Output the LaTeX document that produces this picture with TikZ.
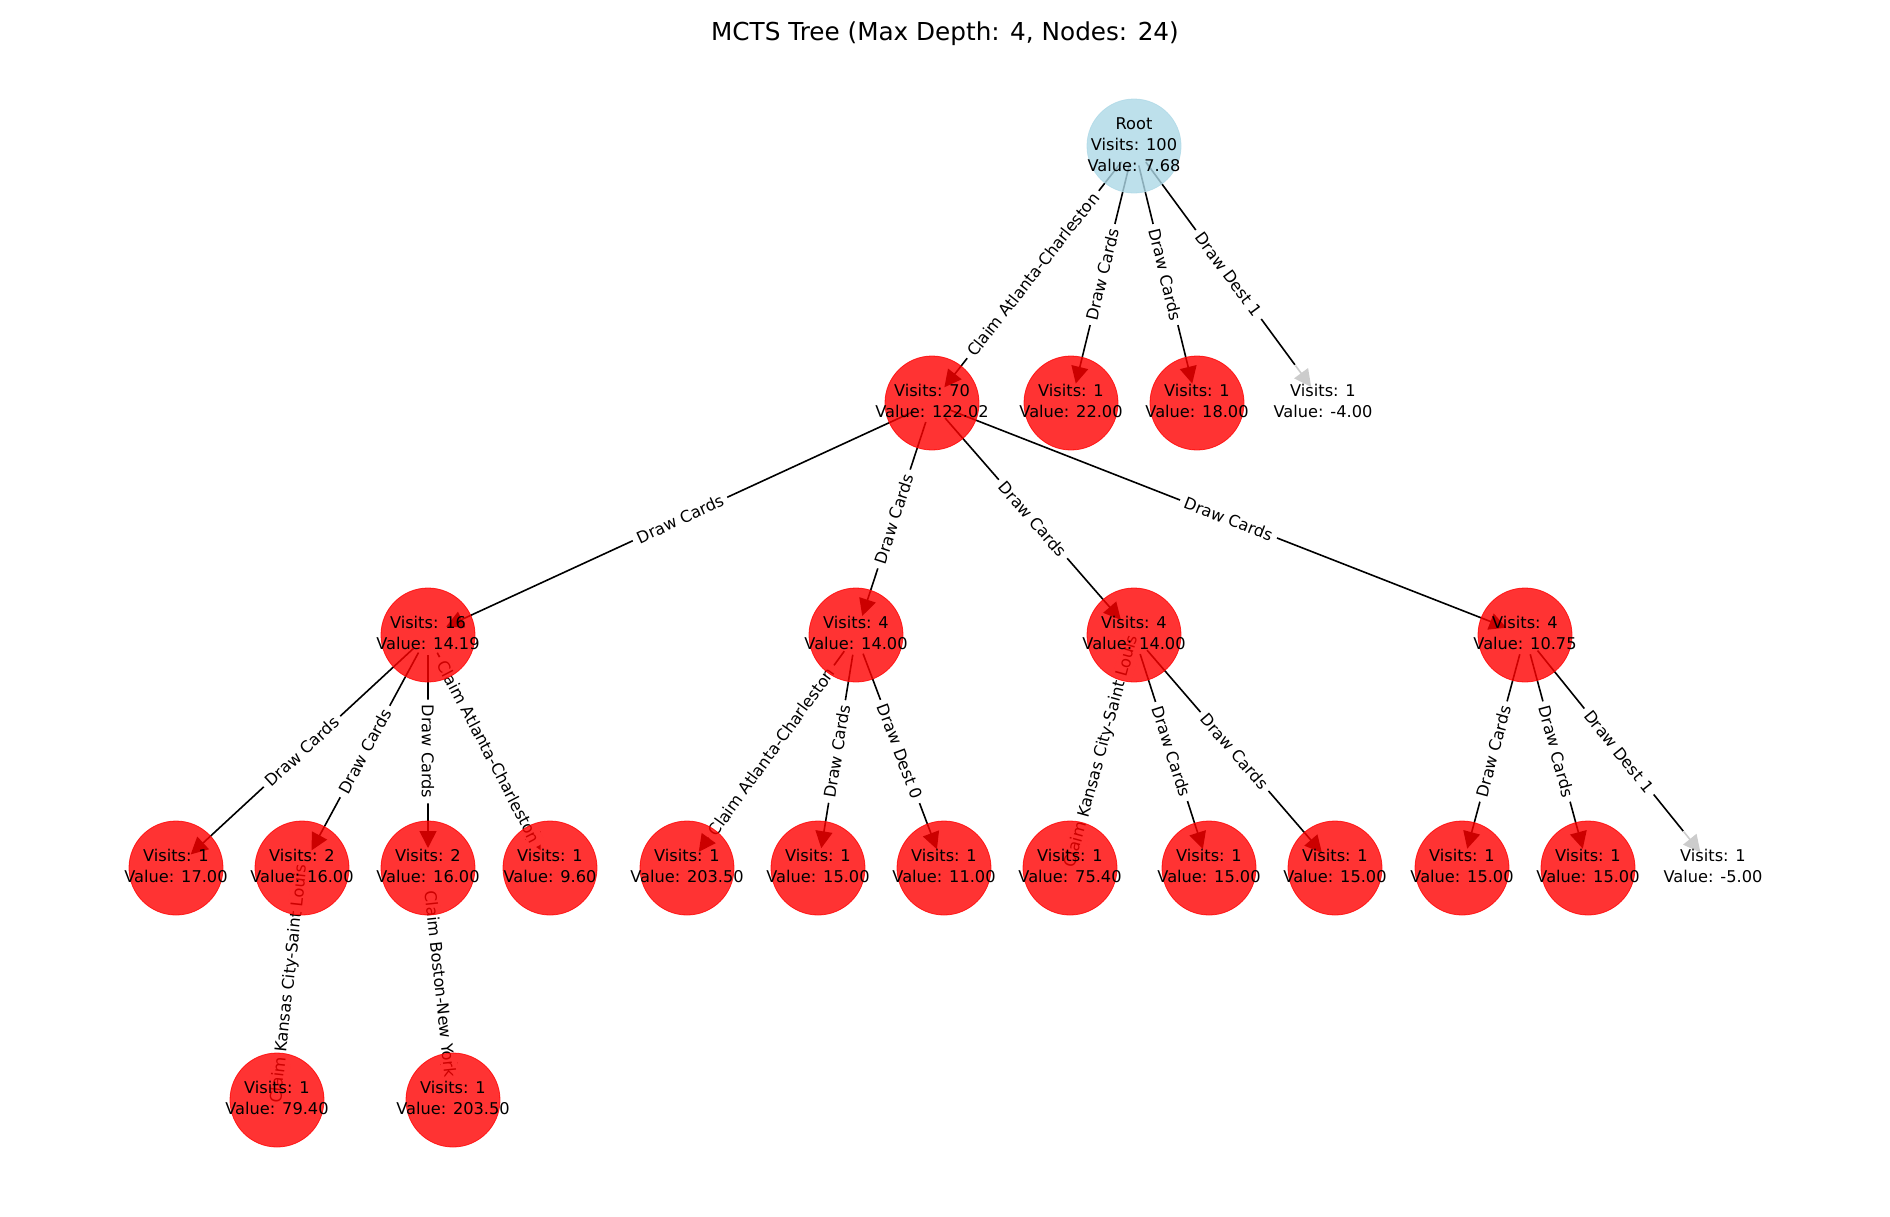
\documentclass[tikz,border=0pt]{standalone}
\usepackage{fontspec}
\setmainfont{DejaVu Sans}
\usetikzlibrary{arrows.meta,backgrounds}
\definecolor{lightblue}{HTML}{ADD8E6}
\newcommand{\nodefont}{\fontsize{16.2}{21}\selectfont}
\newcommand{\titlefont}{\fontsize{24.7}{30}\selectfont}
% text of a tree node, kept out of the circle size
\newcommand{\mctsinfo}[1]{\makebox[0pt]{\begin{tabular}{@{}c@{}}#1\end{tabular}}}
\tikzset{
    x=1pt, y=-1pt, % pixel grid, y pointing down
    tnode/.style={circle, minimum size=94pt, inner sep=0pt, fill=red, draw=red,
        fill opacity=0.8, draw opacity=0.8, text opacity=1, line width=0.8pt, font=\nodefont},
    blank/.style={tnode, fill=white, draw=white}, % leaves drawn in white
    act/.style={-{Triangle[length=17pt,width=17pt]}, line width=1.6pt,
        shorten <=20pt, shorten >=20pt},
    lbl/.style={midway, sloped, fill=white, rounded corners=4pt, inner xsep=5pt,
        inner ysep=2pt, font=\nodefont},
}

\begin{document}
\begin{tikzpicture}
  \useasboundingbox (0,0) rectangle (1890,1216);
  \node[font=\titlefont] (title) at (945,34) {MCTS Tree (Max Depth: 4, Nodes: 24)};

  % depth 0
  \node[tnode, fill=lightblue, draw=lightblue] (root) at (1134,146) {\mctsinfo{Root\\Visits: 100\\Value: 7.68}};
  % depth 1
  \node[tnode] (n70) at (932,403)  {\mctsinfo{Visits: 70\\Value: 122.02}};
  \node[tnode] (n22) at (1071,403) {\mctsinfo{Visits: 1\\Value: 22.00}};
  \node[tnode] (n18) at (1197,403) {\mctsinfo{Visits: 1\\Value: 18.00}};
  \node[blank] (nm4) at (1323,403) {\mctsinfo{Visits: 1\\Value: -4.00}};
  % depth 2
  \node[tnode] (n16) at (428,635)  {\mctsinfo{Visits: 16\\Value: 14.19}};
  \node[tnode] (n4a) at (856,635)  {\mctsinfo{Visits: 4\\Value: 14.00}};
  \node[tnode] (n4b) at (1134,635) {\mctsinfo{Visits: 4\\Value: 14.00}};
  \node[tnode] (n4c) at (1525,635) {\mctsinfo{Visits: 4\\Value: 10.75}};
  % depth 3
  \node[tnode] (a) at (176,868)  {\mctsinfo{Visits: 1\\Value: 17.00}};
  \node[tnode] (b) at (302,868)  {\mctsinfo{Visits: 2\\Value: 16.00}};
  \node[tnode] (c) at (428,868)  {\mctsinfo{Visits: 2\\Value: 16.00}};
  \node[tnode] (d) at (550,868)  {\mctsinfo{Visits: 1\\Value: 9.60}};
  \node[tnode] (e) at (687,868)  {\mctsinfo{Visits: 1\\Value: 203.50}};
  \node[tnode] (f) at (818,868)  {\mctsinfo{Visits: 1\\Value: 15.00}};
  \node[tnode] (g) at (944,868)  {\mctsinfo{Visits: 1\\Value: 11.00}};
  \node[tnode] (h) at (1070,868) {\mctsinfo{Visits: 1\\Value: 75.40}};
  \node[tnode] (i) at (1209,868) {\mctsinfo{Visits: 1\\Value: 15.00}};
  \node[tnode] (j) at (1335,868) {\mctsinfo{Visits: 1\\Value: 15.00}};
  \node[tnode] (k) at (1462,868) {\mctsinfo{Visits: 1\\Value: 15.00}};
  \node[tnode] (l) at (1588,868) {\mctsinfo{Visits: 1\\Value: 15.00}};
  \node[blank] (m) at (1713,868) {\mctsinfo{Visits: 1\\Value: -5.00}};
  % depth 4
  \node[tnode] (p) at (277,1100) {\mctsinfo{Visits: 1\\Value: 79.40}};
  \node[tnode] (q) at (453,1100) {\mctsinfo{Visits: 1\\Value: 203.50}};

  \begin{pgfonlayer}{background}
  \path[act]
    (root.center) edge node[lbl] {Claim Atlanta-Charleston} (n70.center)
    (root.center) edge node[lbl] {Draw Cards} (n22.center)
    (root.center) edge node[lbl] {Draw Cards} (n18.center)
    (root.center) edge node[lbl] {Draw Dest 1} (nm4.center)
    (n70.center) edge node[lbl] {Draw Cards} (n16.center)
    (n70.center) edge node[lbl] {Draw Cards} (n4a.center)
    (n70.center) edge node[lbl] {Draw Cards} (n4b.center)
    (n70.center) edge node[lbl] {Draw Cards} (n4c.center)
    (n16.center) edge node[lbl] {Draw Cards} (a.center)
    (n16.center) edge node[lbl] {Draw Cards} (b.center)
    (n16.center) edge node[lbl] {Draw Cards} (c.center)
    (n16.center) edge node[lbl] {Claim Atlanta-Charleston} (d.center)
    (n4a.center) edge node[lbl] {Claim Atlanta-Charleston} (e.center)
    (n4a.center) edge node[lbl] {Draw Cards} (f.center)
    (n4a.center) edge node[lbl] {Draw Dest 0} (g.center)
    (n4b.center) edge node[lbl] {Claim Kansas City-Saint Louis} (h.center)
    (n4b.center) edge node[lbl] {Draw Cards} (i.center)
    (n4b.center) edge node[lbl] {Draw Cards} (j.center)
    (n4c.center) edge node[lbl] {Draw Cards} (k.center)
    (n4c.center) edge node[lbl] {Draw Cards} (l.center)
    (n4c.center) edge node[lbl] {Draw Dest 1} (m.center)
    (b.center) edge node[lbl] {Claim Kansas City-Saint Louis} (p.center)
    (c.center) edge node[lbl] {Claim Boston-New York} (q.center);
  \end{pgfonlayer}
\end{tikzpicture}
\end{document}
